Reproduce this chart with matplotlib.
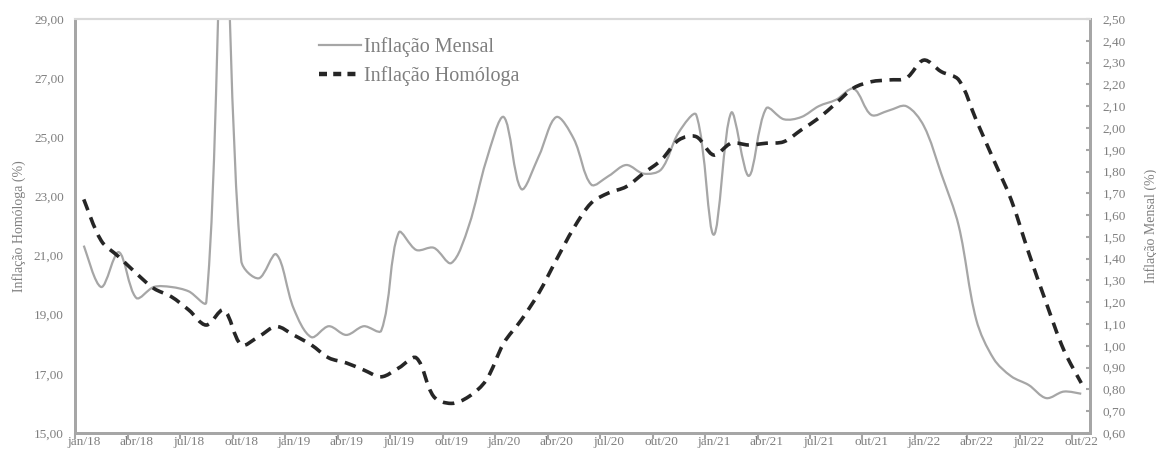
import numpy as np
import matplotlib.pyplot as plt
from matplotlib.path import Path
from matplotlib.patches import PathPatch
from matplotlib.lines import Line2D

plt.rcParams['font.family'] = ['Liberation Serif', 'DejaVu Serif']

# monthly categories jan/18 .. out/22
month_names = ['jan', 'fev', 'mar', 'abr', 'mai', 'jun',
               'jul', 'ago', 'set', 'out', 'nov', 'dez']
periods = [f'{m}/{y}' for y in ['18', '19', '20', '21', '22'] for m in month_names][:58]

# Inflação Homóloga (%) - left axis
homologa = [22.90, 21.50, 20.96, 20.40, 19.89, 19.61, 19.16, 18.65, 19.16, 17.98,
            18.26, 18.60, 18.31, 17.98, 17.54, 17.37, 17.13, 16.90, 17.20, 17.54,
            16.23, 16.00, 16.23, 16.79, 18.04, 18.82, 19.73, 20.85, 21.93, 22.78,
            23.12, 23.33, 23.79, 24.23, 24.91, 25.02, 24.40, 24.80, 24.74, 24.80,
            24.85, 25.25, 25.65, 26.16, 26.67, 26.88, 26.94, 27.00, 27.61, 27.22,
            26.94, 25.58, 24.23, 22.88, 21.09, 19.40, 17.81, 16.69]

# Inflação Mensal (%) - right axis
mensal = [1.46, 1.27, 1.43, 1.22, 1.27, 1.27, 1.25, 1.20, 3.00, 1.39,
          1.31, 1.42, 1.17, 1.04, 1.09, 1.05, 1.09, 1.07, 1.52, 1.44,
          1.45, 1.38, 1.55, 1.85, 2.05, 1.72, 1.87, 2.05, 1.95, 1.74,
          1.78, 1.83, 1.79, 1.81, 1.98, 2.06, 1.51, 2.07, 1.78, 2.09,
          2.04, 2.05, 2.10, 2.13, 2.18, 2.06, 2.08, 2.10, 2.01, 1.79,
          1.55, 1.12, 0.94, 0.86, 0.82, 0.76, 0.79, 0.78]

left_ticks = [15, 17, 19, 21, 23, 25, 27, 29]
right_ticks = [0.6 + 0.1 * k for k in range(20)]

txt = '#7f7f7f'
spine = '#a6a6a6'


def smooth_path(axis, x, y):
    # excel-like smoothed line: bezier through every point, tangents
    # weighted by the on-screen length of the neighbouring segments
    x = np.asarray(x, float)
    y = np.asarray(y, float)
    n = len(x)
    pts = np.column_stack([x, y])
    pix = axis.transData.transform(pts)
    seg = np.hypot(*np.diff(pix, axis=0).T)
    verts = [tuple(pts[0])]
    codes = [Path.MOVETO]
    for i in range(n - 1):
        p0 = pts[i - 1] if i > 0 else pts[i]
        p3 = pts[i + 2] if i + 2 < n else pts[i + 1]
        d_prev = seg[i - 1] if i > 0 else seg[i]
        d_next = seg[i + 1] if i + 2 < n else seg[i]
        w1 = seg[i] / (d_prev + seg[i]) / 3
        w2 = seg[i] / (seg[i] + d_next) / 3
        c1 = pts[i] + (pts[i + 1] - p0) * w1
        c2 = pts[i + 1] - (p3 - pts[i]) * w2
        verts += [tuple(c1), tuple(c2), tuple(pts[i + 1])]
        codes += [Path.CURVE4] * 3
    return Path(verts, codes)


fig = plt.figure(figsize=(11.56, 4.53), dpi=100)
ax = fig.add_axes([0.0649, 0.0442, 0.8780, 0.9138])
ax2 = ax.twinx()
ax.set_zorder(ax2.get_zorder() + 1)
ax.patch.set_visible(False)

ax.set_xlim(0, len(periods))
ax.set_ylim(15, 29)
ax2.set_ylim(0.6, 2.5)

xpos = np.arange(len(periods)) + 0.5

ax2.add_patch(PathPatch(smooth_path(ax2, xpos, mensal), fill=False,
                        edgecolor='#a6a6a6', lw=1.6))
ax.add_patch(PathPatch(smooth_path(ax, xpos, homologa), fill=False,
                       edgecolor='#262626', lw=2.6, linestyle=(0, (3.2, 2.1)),
                       capstyle='butt'))

# ticks at category boundaries, labels centred on the category
ax.set_xticks(np.arange(0, len(periods), 3))
ax.set_xticklabels([])
ax.set_xticks(xpos[::3], minor=True)
ax.set_xticklabels(periods[::3], minor=True)
ax.tick_params(axis='x', which='major', direction='out', length=4, width=1.5, color=spine)
ax.tick_params(axis='x', which='minor', length=0, pad=2, labelsize=9.5, labelcolor=txt)

ax.set_yticks(left_ticks)
ax.set_yticklabels([f'{v:.2f}'.replace('.', ',') for v in left_ticks])
ax.tick_params(axis='y', length=0, pad=8, labelsize=9.5, labelcolor=txt)

ax2.set_yticks(right_ticks)
ax2.set_yticklabels([f'{v:.2f}'.replace('.', ',') for v in right_ticks])
ax2.tick_params(axis='y', direction='in', length=3, width=1.5, color=spine,
                pad=9, labelsize=9.5, labelcolor=txt)

for a in (ax, ax2):
    for s in a.spines.values():
        s.set_color(spine)
        s.set_linewidth(2)
    a.spines['top'].set_color('#d9d9d9')
    a.spines['top'].set_linewidth(1.5)

ax.set_ylabel('Inflação Homóloga (%)', fontsize=10, color=txt, labelpad=6)
ax2.set_ylabel('Inflação Mensal (%)', fontsize=10, color=txt, labelpad=13)

handles = [Line2D([], [], color='#a6a6a6', lw=1.6),
           Line2D([], [], color='#262626', lw=3.2, linestyle=(0, (1.8, 1.4)))]
leg = ax.legend(handles, ['Inflação Mensal', 'Inflação Homóloga'],
                loc='upper left', bbox_to_anchor=(0.232, 0.975), frameon=False,
                fontsize=14.5, handlelength=2.1, handletextpad=0.15, labelspacing=0.45,
                borderaxespad=0)
for t in leg.get_texts():
    t.set_color(txt)

fig.savefig('out.png', dpi=100)
